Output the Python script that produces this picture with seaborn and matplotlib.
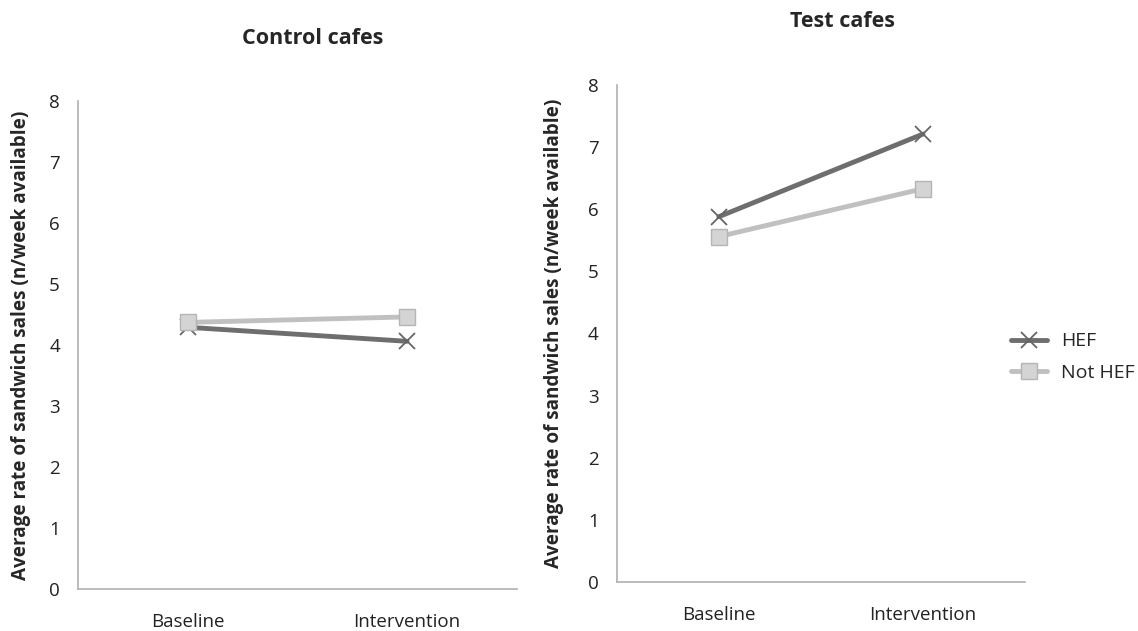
import matplotlib
matplotlib.use("Agg")
import matplotlib.pyplot as plt
import seaborn as sns
import pandas as pd

phases = ["Baseline", "Intervention"]
groups = ["HEF", "Not HEF"]
control_hef = [4.29, 4.06]
control_not_hef = [4.37, 4.46]
test_hef = [5.88, 7.21]
test_not_hef = [5.56, 6.33]
y_ticks = [0, 1, 2, 3, 4, 5, 6, 7, 8]

sns.set_theme(style="white")
plt.rcParams["font.family"] = ["Open Sans", "DejaVu Sans"]

def make_frame(hef, not_hef):
    rows = []
    for g, vals in zip(groups, [hef, not_hef]):
        for p, v in zip(phases, vals):
            rows.append({"phase": p, "rate": v, "group": g})
    return pd.DataFrame(rows)

palette = {"HEF": "#6e6e6e", "Not HEF": "#c0c0c0"}

fig = plt.figure(figsize=(11.38, 6.31), dpi=100)
ax_l = fig.add_axes([0.0685, 0.0666, 0.3855, 0.7734])
ax_r = fig.add_axes([0.542, 0.0777, 0.3587, 0.7876])

panels = [(ax_l, control_hef, control_not_hef, "Control cafes", 0.534, 1.129, 13),
          (ax_r, test_hef, test_not_hef, "Test cafes", 0.554, 1.127, 17)]

for ax, hef, nhef, title, tx, ty, lpad in panels:
    df = make_frame(hef, nhef)
    for g in groups:
        sub = df[df["group"] == g]
        if g == "HEF":
            sns.lineplot(data=sub, x="phase", y="rate", ax=ax, color=palette[g],
                         linewidth=3.5, marker="x", markersize=11,
                         markeredgewidth=1.3, markeredgecolor="#666666",
                         label=g, sort=False)
        else:
            sns.lineplot(data=sub, x="phase", y="rate", ax=ax, color=palette[g],
                         linewidth=3.5, marker="s", markersize=12,
                         markerfacecolor="#d4d4d4", markeredgecolor="#b5b5b5",
                         markeredgewidth=1.0, label=g, sort=False)
    ax.set_xlim(-0.5, 1.5)
    ax.set_ylim(0, 8)
    ax.set_yticks(y_ticks)
    ax.set_yticklabels([str(t) for t in y_ticks], fontsize=13.5, color="#222222")
    ax.tick_params(axis="x", labelsize=13.5, colors="#222222", length=0, pad=17)
    ax.tick_params(axis="y", length=0, pad=13)
    ax.set_xlabel("")
    ax.set_ylabel("Average rate of sandwich sales (n/week available)",
                  fontsize=13.6, fontweight="bold", labelpad=lpad)
    ax.set_title(title, fontsize=15.5, fontweight="bold", x=tx, y=ty, pad=0, va="center")
    for s in ["top", "right"]:
        ax.spines[s].set_visible(False)
    for s in ["left", "bottom"]:
        ax.spines[s].set_color("#b0b0b0")
        ax.spines[s].set_linewidth(1.2)
    ax.get_legend().remove()

handles, labels = ax_r.get_legend_handles_labels()
fig.legend(handles, labels, loc="center left", bbox_to_anchor=(0.882, 0.434),
           frameon=False, fontsize=14, handlelength=1.85, handletextpad=0.7,
           labelspacing=0.7, borderaxespad=0)

fig.savefig("out.png", dpi=100)
